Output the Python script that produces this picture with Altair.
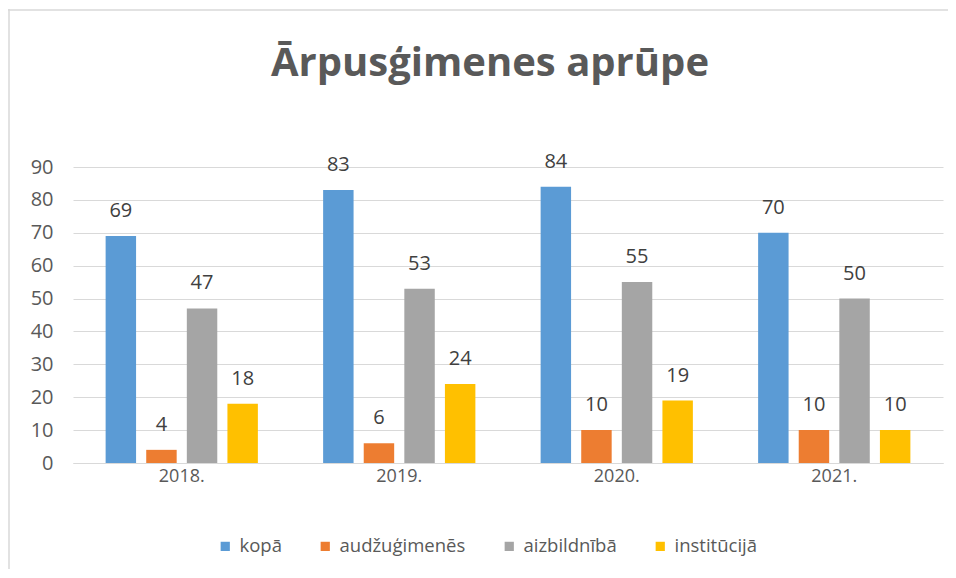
import altair as alt
import pandas as pd

years = ["2018.", "2019.", "2020.", "2021."]
series = ["kopā", "audžuģimenēs", "aizbildnībā", "institūcijā"]
values = {
    "kopā": [69, 83, 84, 70],
    "audžuģimenēs": [4, 6, 10, 10],
    "aizbildnībā": [47, 53, 55, 50],
    "institūcijā": [18, 24, 19, 10],
}
colors = ["#5B9BD5", "#ED7D31", "#A5A5A5", "#FFC000"]
title_text = "Ārpusģimenes aprūpe"

rows = []
for s in series:
    for y, v in zip(years, values[s]):
        rows.append({"gads": y, "sērija": s, "vērtība": v})
df = pd.DataFrame(rows)

FONT = "Open Sans"
TXT = "#595959"

x = alt.X("gads:N", sort=years, title=None,
          scale=alt.Scale(paddingInner=0.3, paddingOuter=0.15),
          axis=alt.Axis(labelAngle=0, labelFontSize=18, labelColor=TXT, labelFont=FONT,
                        ticks=False, domainColor="#d9d9d9", labelPadding=4, grid=False))
xo = alt.XOffset("sērija:N", sort=series, scale=alt.Scale(paddingInner=0.25, paddingOuter=0))
y = alt.Y("vērtība:Q", title=None,
          scale=alt.Scale(domain=[0, 90], nice=False),
          axis=alt.Axis(values=list(range(0, 91, 10)), labelFontSize=20, labelColor=TXT,
                        labelFont=FONT, ticks=False, domain=False, gridColor="#d9d9d9",
                        labelPadding=20))
color = alt.Color("sērija:N", sort=series, scale=alt.Scale(domain=series, range=colors),
                  legend=alt.Legend(title=None, orient="none", direction="horizontal",
                                    legendX=143, legendY=370, symbolType="square",
                                    symbolSize=85, symbolStrokeWidth=0, labelFontSize=18.5,
                                    labelColor=TXT, labelFont=FONT, columnPadding=34,
                                    symbolOffset=0, labelOffset=5))

base = alt.Chart(df)
bars = base.mark_bar().encode(x=x, xOffset=xo, y=y, color=color)
labels = base.mark_text(fontSize=20, font=FONT, color="#404040", baseline="middle", dy=-25).encode(
    x=x, xOffset=xo, y=y, text="vērtība:Q")

tdf = pd.DataFrame({"t": [title_text]})
title = alt.Chart(tdf).mark_text(fontSize=40, font=FONT, fontWeight="bold", color=TXT,
                                 baseline="alphabetic", align="center").encode(
    text="t:N", x=alt.value(417), y=alt.value(-91))
border_v = alt.Chart(tdf).mark_rule(color="#d9d9d9", strokeWidth=1.5).encode(
    x=alt.value(-64), y=alt.value(-158), y2=alt.value(402))
border_h = alt.Chart(tdf).mark_rule(color="#d9d9d9", strokeWidth=1.5).encode(
    x=alt.value(-65), x2=alt.value(875), y=alt.value(-157))

chart = alt.layer(bars, labels, title, border_v, border_h).properties(
    width=870, height=296,
    background="white",
    autosize=alt.AutoSizeParams(type="none"),
    padding={"left": 65, "top": 159, "right": 5, "bottom": 107},
).configure_view(stroke=None)

chart.save("out.html", embed_options={"renderer": "svg", "actions": False})
